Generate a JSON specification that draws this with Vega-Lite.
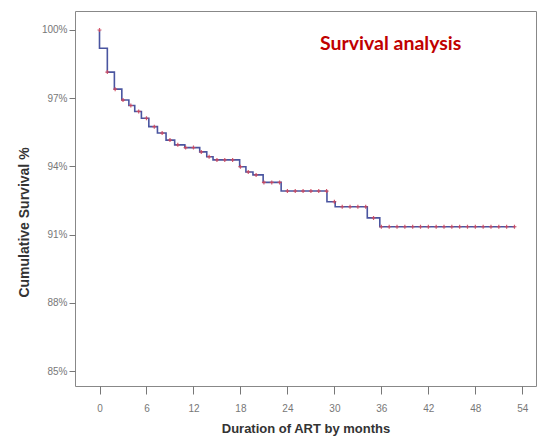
{
  "$schema": "https://vega.github.io/schema/vega-lite/v6.json",
  "width": 461,
  "height": 375,
  "autosize": {"type": "none"},
  "padding": {"left": 75, "top": 11, "right": 3, "bottom": 53},
  "background": "white",
  "config": {
    "view": {"stroke": "#888888", "strokeWidth": 1},
    "axis": {"grid": false, "domain": false, "labelFont": "Liberation Sans", "labelFontSize": 10, "labelColor": "#777777", "tickColor": "#777777", "tickSize": 6, "titleFont": "Liberation Sans", "titleFontSize": 13, "titleFontWeight": "bold", "titleColor": "#333333"}
  },
  "title": {"text": "Survival analysis", "anchor": "start", "frame": "group", "orient": "top", "offset": 0, "dx": 245, "dy": 58, "baseline": "alphabetic", "font": "Lato", "fontSize": 19.5, "fontWeight": "bold", "color": "#c00000"},
  "datasets": {
    "steps": [
      {"o": 0, "t": 0, "s": 100},
      {"o": 1, "t": 0, "s": 99.2},
      {"o": 2, "t": 1.0, "s": 98.15},
      {"o": 3, "t": 1.9, "s": 97.4},
      {"o": 4, "t": 2.85, "s": 96.92},
      {"o": 5, "t": 3.75, "s": 96.68},
      {"o": 6, "t": 4.5, "s": 96.42},
      {"o": 7, "t": 5.35, "s": 96.12},
      {"o": 8, "t": 6.3, "s": 95.75},
      {"o": 9, "t": 7.4, "s": 95.47},
      {"o": 10, "t": 8.5, "s": 95.16},
      {"o": 11, "t": 9.6, "s": 94.95},
      {"o": 12, "t": 10.9, "s": 94.83},
      {"o": 13, "t": 12.8, "s": 94.64},
      {"o": 14, "t": 13.7, "s": 94.43},
      {"o": 15, "t": 14.5, "s": 94.29},
      {"o": 16, "t": 17.9, "s": 93.99},
      {"o": 17, "t": 18.7, "s": 93.76},
      {"o": 18, "t": 19.6, "s": 93.63},
      {"o": 19, "t": 20.9, "s": 93.3},
      {"o": 20, "t": 23.2, "s": 92.92},
      {"o": 21, "t": 29.05, "s": 92.45},
      {"o": 22, "t": 30.1, "s": 92.23},
      {"o": 23, "t": 34.2, "s": 91.74},
      {"o": 24, "t": 35.8, "s": 91.35},
      {"o": 25, "t": 53.1, "s": 91.35}
    ],
    "censored": [
      {"t": 0, "s": 100}, {"t": 1, "s": 98.15}, {"t": 2, "s": 97.4}, {"t": 3, "s": 96.92},
      {"t": 4, "s": 96.68}, {"t": 5, "s": 96.42}, {"t": 6, "s": 96.12}, {"t": 7, "s": 95.75},
      {"t": 8, "s": 95.47}, {"t": 9, "s": 95.16}, {"t": 10, "s": 94.95}, {"t": 11, "s": 94.83},
      {"t": 12, "s": 94.83}, {"t": 13, "s": 94.64}, {"t": 14, "s": 94.43}, {"t": 15, "s": 94.29},
      {"t": 16, "s": 94.29}, {"t": 17, "s": 94.29}, {"t": 18, "s": 93.99}, {"t": 19, "s": 93.76},
      {"t": 20, "s": 93.63}, {"t": 21, "s": 93.3}, {"t": 22, "s": 93.3}, {"t": 23, "s": 93.3},
      {"t": 24, "s": 92.92}, {"t": 25, "s": 92.92}, {"t": 26, "s": 92.92}, {"t": 27, "s": 92.92},
      {"t": 28, "s": 92.92}, {"t": 29, "s": 92.92}, {"t": 30, "s": 92.45}, {"t": 31, "s": 92.23},
      {"t": 32, "s": 92.23}, {"t": 33, "s": 92.23}, {"t": 34, "s": 92.23}, {"t": 35, "s": 91.74},
      {"t": 36, "s": 91.35}, {"t": 37, "s": 91.35}, {"t": 38, "s": 91.35}, {"t": 39, "s": 91.35},
      {"t": 40, "s": 91.35}, {"t": 41, "s": 91.35}, {"t": 42, "s": 91.35}, {"t": 43, "s": 91.35},
      {"t": 44, "s": 91.35}, {"t": 45, "s": 91.35}, {"t": 46, "s": 91.35}, {"t": 47, "s": 91.35},
      {"t": 48, "s": 91.35}, {"t": 49, "s": 91.35}, {"t": 50, "s": 91.35}, {"t": 51, "s": 91.35},
      {"t": 52, "s": 91.35}, {"t": 53, "s": 91.35}
    ]
  },
  "encoding": {
    "x": {"field": "t", "type": "quantitative", "scale": {"domain": [-3.13, 55.75], "nice": false, "zero": false},
      "axis": {"values": [0, 6, 12, 18, 24, 30, 36, 42, 48, 54], "title": "Duration of ART by months", "tickSize": 8, "titlePadding": 9, "labelPadding": 9}},
    "y": {"field": "s", "type": "quantitative", "scale": {"domain": [84.35, 100.835], "nice": false, "zero": false},
      "axis": {"values": [85, 88, 91, 94, 97, 100], "labelExpr": "datum.value + '%'", "title": "Cumulative Survival %", "titleFontSize": 14, "titlePadding": 10, "titleY": 211, "labelPadding": 2}}
  },
  "layer": [
    {
      "data": {"name": "steps"},
      "mark": {"type": "line", "interpolate": "step-after", "color": "#4a55a0", "strokeWidth": 1.6},
      "encoding": {"order": {"field": "o", "type": "quantitative"}}
    },
    {
      "data": {"name": "censored"},
      "mark": {"type": "point", "shape": "M0,-1V1M-1,0H1", "filled": false, "size": 16, "stroke": "#d0485e", "strokeWidth": 1.2, "opacity": 0.9}
    }
  ]
}
